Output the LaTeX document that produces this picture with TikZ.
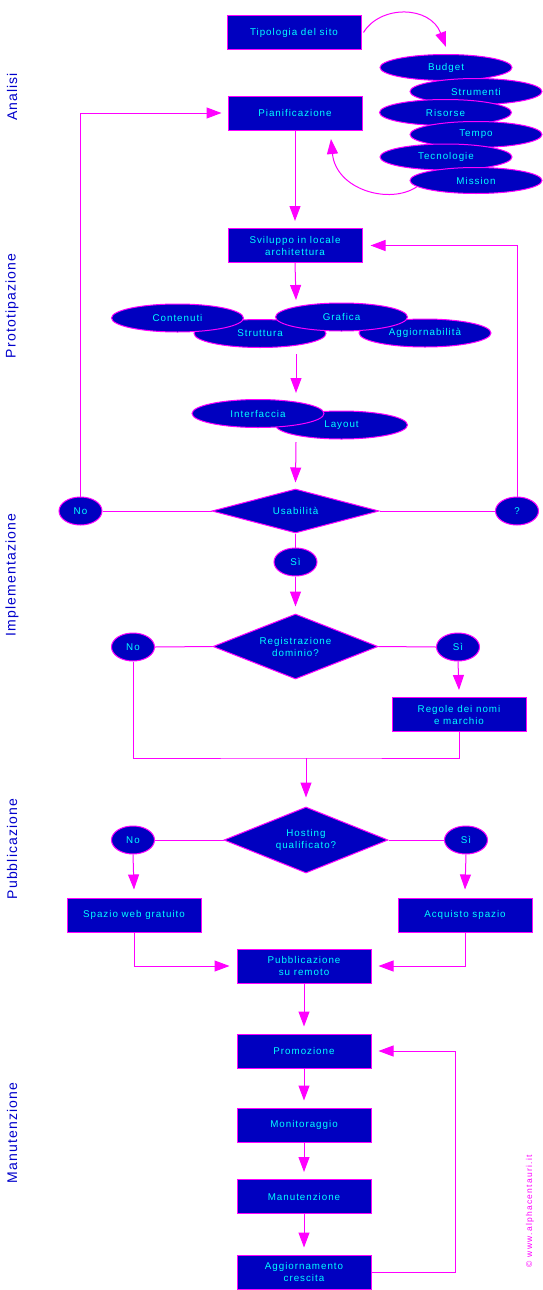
\documentclass[tikz,border=0pt]{standalone}
\usepackage{fontspec}
\setmainfont{Liberation Sans}
\newfontfamily\boxf[LetterSpace=10]{Liberation Sans}
\newfontfamily\labf[LetterSpace=8]{Liberation Sans}
\newfontfamily\copyf[LetterSpace=15]{Liberation Sans}
\usetikzlibrary{shapes.geometric,arrows.meta}
\definecolor{bfill}{RGB}{0,0,192}
\definecolor{mag}{RGB}{255,0,255}
\definecolor{cy}{RGB}{0,255,255}
\definecolor{lblue}{RGB}{0,0,204}
\begin{document}
\begin{tikzpicture}[x=1pt,y=-1pt,
 base/.style={draw=mag,fill=bfill,text=cy,line width=1pt,inner sep=0pt,font=\boxf\fontsize{9.8}{12}\selectfont,align=center},
 box/.style={base,rectangle,minimum width=134pt,minimum height=34pt},
 ell/.style={base,ellipse,minimum width=132pt,minimum height=26pt},
 ellb/.style={ell,minimum height=28pt},
 small/.style={base,ellipse,minimum width=43pt,minimum height=28pt},
 dia/.style={base,diamond,aspect=3},
 ln/.style={draw=mag,line width=1pt},
 arr/.style={ln,-{Triangle[length=15pt,width=11pt]}},
 lab/.style={rotate=90,text=lblue,font=\labf\fontsize{14}{14}\selectfont,inner sep=0pt}]
\fill[white] (0,0) rectangle (543,1290);
\useasboundingbox (0,0) rectangle (543,1290);

% side labels
\node[lab] (l1) at (12,97) {Analisi};
\node[lab] (l2) at (12,306) {Prototipazione};
\node[lab] (l3) at (12,575) {Implementazione};
\node[lab] (l4) at (12,849) {Pubblicazione};
\node[lab] (l5) at (12,1133) {Manutenzione};
\node[rotate=90,text=mag,inner sep=0pt,font=\copyf\fontsize{8.5}{9}\selectfont] (cp) at (530,1211) {© www.alphacentauri.it};

% Analisi
\node[box] (tip) at (294,32.5) {Tipologia del sito};
\node[box] (pian) at (295,113) {Pianificazione};
\node[ell] (bud) at (446,67.5) {Budget};
\node[ell] (stru) at (476,91.5) {Strumenti};
\node[ell] (ris) at (445.5,112.5) {Risorse};
\node[ell] (tem) at (476,134.5) {Tempo};
\node[ell] (tec) at (446,157) {Tecnologie};
\node[ell] (mis) at (476,180.5) {Mission};
\coordinate (m2p) at (331,139);

% Prototipazione
\node[box] (svil) at (295,245.5) {Sviluppo in locale\\architettura};
\node[ellb] (str) at (260,333.5) {Struttura};
\node[ellb] (agg) at (425,333) {Aggiornabilità};
\node[ellb] (con) at (177.5,318) {Contenuti};
\node[ellb] (gra) at (341.5,317) {Grafica};
\node[ellb] (lay) at (341.5,425) {Layout};
\node[ellb] (int) at (258,413.5) {Interfaccia};
\coordinate (c1) at (296,300);
\coordinate (c2s) at (296,354);
\coordinate (c2) at (296,393);
\coordinate (c3s) at (296,442);

% Implementazione
\node[dia,minimum width=167pt,minimum height=44pt] (usab) at (295.5,511) {Usabilità};
\node[small] (noU) at (80.5,511) {No};
\node[small] (q) at (517,511) {?};
\node[small] (siU) at (295.5,562) {Sì};
\node[dia,minimum width=165pt,minimum height=65pt] (reg) at (295.5,646.5) {Registrazione\\dominio?};
\node[small] (no2) at (133,647) {No};
\node[small] (si2) at (458,647) {Sì};
\node[box] (regole) at (459,714.5) {Regole dei nomi\\e marchio};
\coordinate (j) at (306,758);

% Pubblicazione
\node[dia,minimum width=164pt,minimum height=66pt] (host) at (306,840) {Hosting\\qualificato?};
\node[small] (no3) at (133,840) {No};
\node[small] (si3) at (466,840) {Sì};
\node[box] (spazio) at (134,915) {Spazio web gratuito};
\node[box] (acq) at (465,915) {Acquisto spazio};
\node[box] (pub) at (304,966) {Pubblicazione\\su remoto};

% Manutenzione
\node[box] (prom) at (304,1051) {Promozione};
\node[box] (mon) at (304,1125) {Monitoraggio};
\node[box] (man) at (304,1196.5) {Manutenzione};
\node[box] (aggc) at (304,1272) {Aggiornamento\\crescita};

% connectors
\draw[arr] ([xshift=2pt]tip.east) .. controls (380,5) and (430,5) .. ([yshift=7pt]bud.north);
\draw[arr] (mis.186) .. controls (390,205) and (336,190) .. (m2p);
\draw[arr] (noU.north) |- ([xshift=-6pt]pian.west);
\draw[arr] (pian.south) -- ([yshift=7pt]svil.north);
\draw[arr] (q.north) |- ([xshift=8pt]svil.east);
\draw[arr] (svil.south) -- (c1);
\draw[arr] (c2s) -- (c2);
\draw[arr] (c3s) -- ([yshift=6pt]usab.north);
\draw[ln] (noU.east) -- (usab.west);
\draw[ln] (usab.east) -- (q.west);
\draw[ln] (usab.south) -- (siU.north);
\draw[arr] (siU.south) -- ([yshift=7pt]reg.north);
\draw[ln] (no2.east) -- (reg.west);
\draw[ln] (reg.east) -- (si2.west);
\draw[arr] (si2.south) -- ([yshift=7pt]regole.north);
\draw[ln] (no2.south) |- (j) -| (regole.south);
\draw[arr] (j) -- ([yshift=9pt]host.north);
\draw[ln] (no3.east) -- (host.west);
\draw[ln] (host.east) -- (si3.west);
\draw[arr] (no3.south) -- ([yshift=8pt]spazio.north);
\draw[arr] (si3.south) -- ([yshift=8pt]acq.north);
\draw[arr] (spazio.south) |- ([xshift=-7pt]pub.west);
\draw[arr] (acq.south) |- ([xshift=7pt]pub.east);
\draw[arr] (pub.south) -- ([yshift=7pt]prom.north);
\draw[arr] (prom.south) -- ([yshift=7pt]mon.north);
\draw[arr] (mon.south) -- ([yshift=7pt]man.north);
\draw[arr] (man.south) -- ([yshift=7pt]aggc.north);
\draw[arr] (aggc.east) -- ++(84,0) |- ([xshift=7pt]prom.east);
\end{tikzpicture}
\end{document}
